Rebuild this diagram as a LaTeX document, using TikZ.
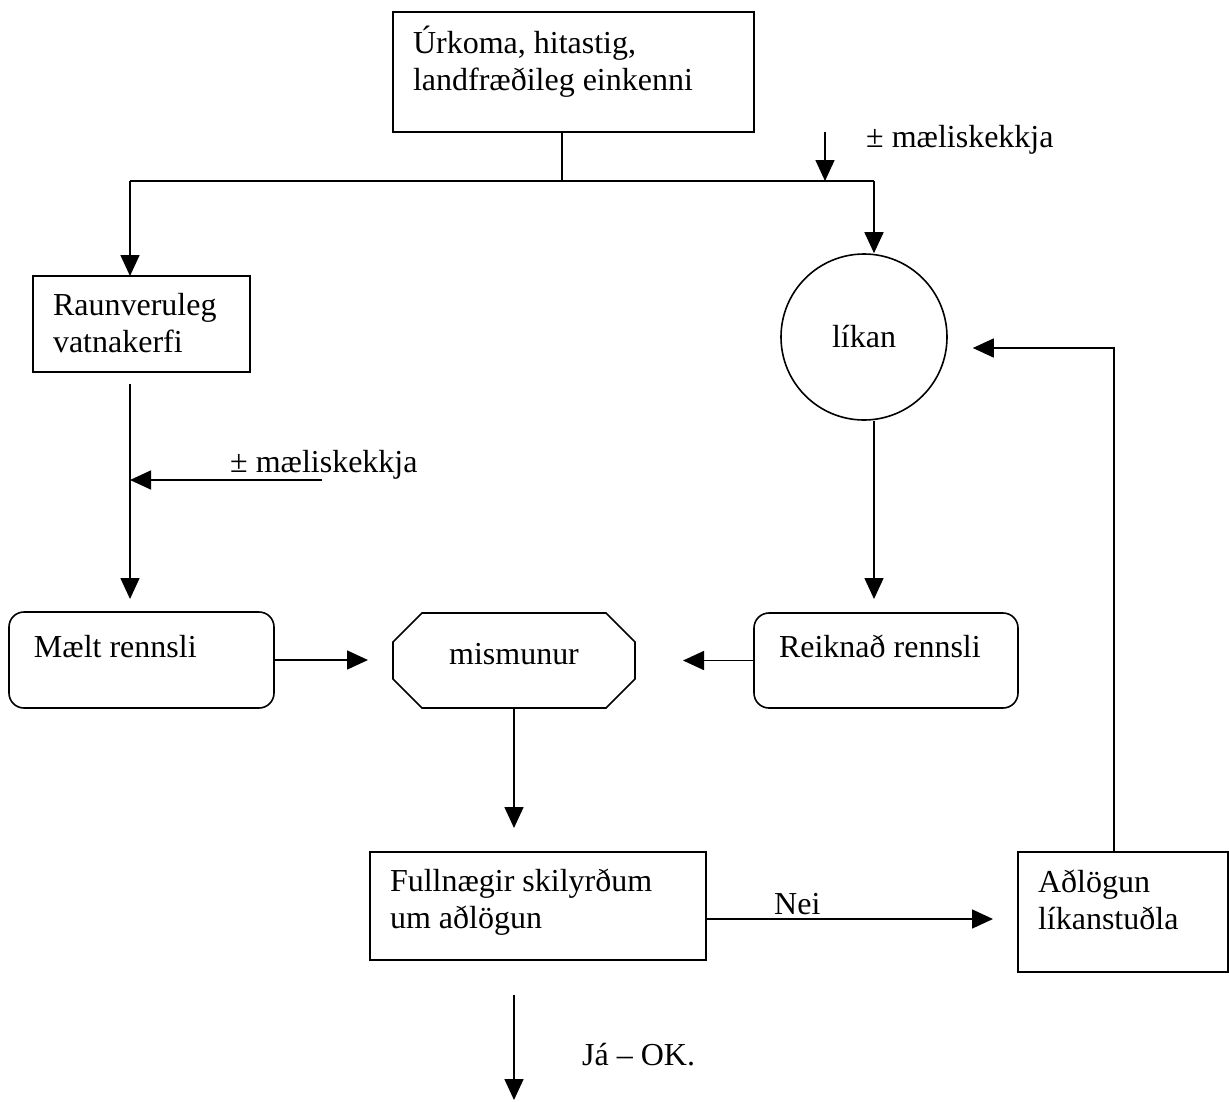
\documentclass[tikz,border=0pt]{standalone}
\usepackage{fontspec}
\setmainfont{Liberation Serif}
\usetikzlibrary{arrows.meta}
\newcommand{\boxlines}[4]{\parbox[c][#2][t]{#1}{\raggedright\rule{0pt}{#3}#4}}
\tikzset{
    blk/.style={draw, line width=1.6pt, inner xsep=20pt, inner ysep=0pt, outer sep=0pt, anchor=north west},
    rblk/.style={blk, rounded corners=15pt, inner xsep=25pt},
    oct/.style={minimum width=242pt, minimum height=95pt, inner sep=0pt, outer sep=0pt, text height=22pt, text depth=15pt},
    arr/.style={-{Triangle[length=21pt,width=19pt]}, line width=1.6pt},
    lbl/.style={inner sep=0pt, anchor=base west},
}
\begin{document}
\begin{tikzpicture}[x=1pt, y=-1pt, font=\fontsize{32}{37}\selectfont]
    \useasboundingbox (0,0) rectangle (1229,1101);

    \node[blk] (top) at (393,12) {\boxlines{321pt}{120pt}{41pt}{Úrkoma, hitastig,\\landfræðileg einkenni}};
    \node[blk] (raun) at (33,276) {\boxlines{177pt}{96pt}{39pt}{Raunveruleg\\vatnakerfi}};
    \node[rblk] (maelt) at (9,612) {\boxlines{215pt}{96pt}{45pt}{Mælt rennsli}};
    \node[rblk] (reik) at (754,613) {\boxlines{214pt}{95pt}{44pt}{Reiknað rennsli}};
    \node[oct] (mis) at (514,660.5) {mismunur};
    \node[blk] (full) at (370,852) {\boxlines{296pt}{108pt}{39pt}{Fullnægir skilyrðum\\um aðlögun}};
    \node[blk] (adl) at (1018,852) {\boxlines{170pt}{120pt}{40pt}{Aðlögun\\líkanstuðla}};
    \node[draw, circle, line width=1.6pt, minimum size=166pt, inner sep=0pt] (lik) at (864,337) {líkan};

    \draw[line width=1.6pt] ([xshift=29pt]mis.north west) -- ([xshift=-29pt]mis.north east)
        -- ([yshift=-29pt]mis.north east) -- ([yshift=29pt]mis.south east)
        -- ([xshift=-29pt]mis.south east) -- ([xshift=29pt]mis.south west)
        -- ([yshift=29pt]mis.south west) -- ([yshift=-29pt]mis.north west) -- cycle;

    \node[lbl] (errtop) at (866,147) {± mæliskekkja};
    \node[lbl] (errside) at (230,472) {± mæliskekkja};
    \node[lbl] (nei) at (774,914) {Nei};
    \node[lbl] (jaok) at (582,1065) {Já – OK.};

    \coordinate (j) at (562,181);
    \coordinate (busL) at (130,181);
    \coordinate (busR) at (874,181);
    \coordinate (errtopstart) at (825,132);
    \coordinate (errsidestart) at (322,480);
    \coordinate (fb) at (1114,348);
    \coordinate (neistart) at ([yshift=-13pt]full.east);
    \coordinate (ja) at (514,995);
    \coordinate (jaend) at (514,1100);

    \draw[line width=1.6pt] (top.south -| j) -- (j);
    \draw[line width=1.6pt] (busL) -- (busR);
    \draw[arr] (busL) -- (raun.north -| busL);
    \draw[arr] (busR) -- (lik.north -| busR);
    \draw[arr] (errtopstart) -- (errtopstart |- busL);
    \draw[arr, shorten <=12pt, shorten >=13pt] (raun.south -| busL) -- (maelt.north -| busL);
    \draw[arr] (errsidestart) -- (errsidestart -| busL);
    \draw[arr, shorten >=25pt] (maelt.east) -- (maelt.east -| mis.west);
    \draw[arr, shorten >=48pt] (reik.west) -- (reik.west -| mis.east);
    \draw[arr, shorten >=14pt] (lik.south -| busR) -- (reik.north -| busR);
    \draw[arr, shorten >=24pt] (mis.south) -- (mis.south |- full.north);
    \draw[arr, shorten >=25pt] (neistart) -- (neistart -| adl.west);
    \draw[arr, shorten >=25pt] (adl.north -| fb) -- (fb) -- (lik.east |- fb);
    \draw[arr] (ja) -- (jaend);
\end{tikzpicture}
\end{document}
